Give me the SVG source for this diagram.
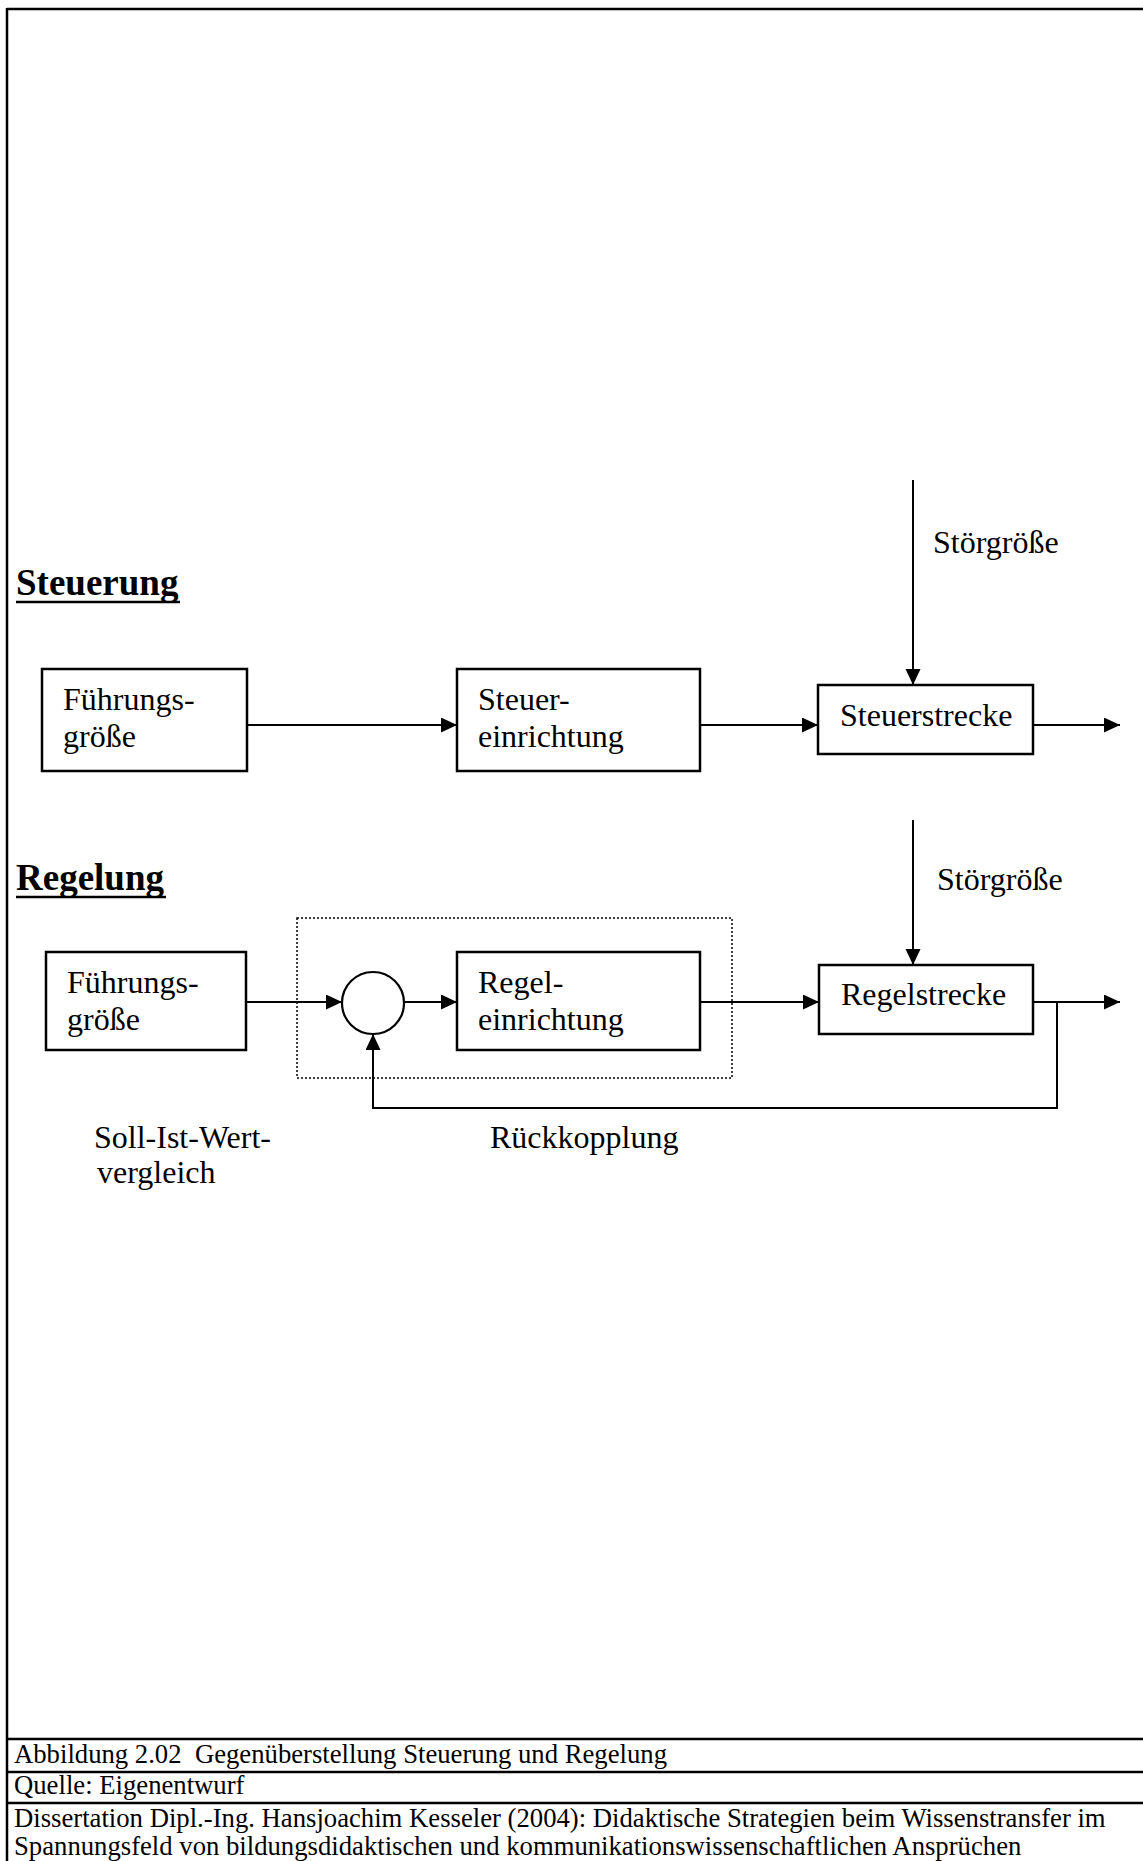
<svg xmlns="http://www.w3.org/2000/svg" width="1143" height="1861" viewBox="0 0 1143 1861">
<style>
.t{font-family:"Liberation Serif","Times New Roman",serif;font-size:32px;fill:#000}
.h{font-family:"Liberation Serif","Times New Roman",serif;font-size:37px;font-weight:bold;fill:#000}
.f{font-family:"Liberation Serif","Times New Roman",serif;font-size:26.7px;fill:#000}
.box{fill:#fff;stroke:#000;stroke-width:2.5}
.ln{fill:none;stroke:#000;stroke-width:2}
.arr{fill:none;stroke:#000;stroke-width:2;marker-end:url(#ah)}
.frame{fill:none;stroke:#000;stroke-width:2.5}
</style>
<defs>
<marker id="ah" markerUnits="userSpaceOnUse" markerWidth="18" markerHeight="16" refX="16" refY="7.5" orient="auto">
<path d="M0,0 L16,7.5 L0,15 Z" fill="#000"/>
</marker>
</defs>
<rect width="1143" height="1861" fill="#fff"/>
<g id="frame">
<line class="frame" x1="7" y1="9" x2="1143" y2="9"/>
<line class="frame" x1="7" y1="8" x2="7" y2="1861"/>
<line class="frame" x1="7" y1="1739" x2="1143" y2="1739"/>
<line class="frame" x1="7" y1="1772" x2="1143" y2="1772"/>
<line class="frame" x1="7" y1="1803" x2="1143" y2="1803"/>
</g>
<g id="titles">
<text class="h" x="16" y="595">Steuerung</text>
<line x1="16" y1="602" x2="180" y2="602" stroke="#000" stroke-width="2.5"/>
<text class="h" x="16" y="890">Regelung</text>
<line x1="16" y1="897" x2="166" y2="897" stroke="#000" stroke-width="2.5"/>
</g>
<g id="connectors">
<line class="arr" x1="247" y1="725" x2="457" y2="725"/>
<line class="arr" x1="700" y1="725" x2="818" y2="725"/>
<line class="arr" x1="1033" y1="725" x2="1120" y2="725"/>
<line class="arr" x1="913" y1="480" x2="913" y2="685"/>
<line class="arr" x1="246" y1="1002" x2="342" y2="1002"/>
<line class="arr" x1="404" y1="1002" x2="457" y2="1002"/>
<line class="arr" x1="700" y1="1002" x2="819" y2="1002"/>
<line class="arr" x1="1033" y1="1002" x2="1120" y2="1002"/>
<line class="arr" x1="913" y1="820" x2="913" y2="965"/>
<polyline class="arr" points="1057,1002 1057,1108 373,1108 373,1034"/>
</g>
<g id="dotted-box">
<rect x="297" y="918" width="435" height="160" fill="none" stroke="#000" stroke-width="1.5" stroke-dasharray="2,2"/>
</g>
<g id="s-fuehrung">
<rect class="box" x="42" y="669" width="205" height="102"/>
<text class="t" x="63" y="710">Führungs-</text>
<text class="t" x="63" y="747">größe</text>
</g>
<g id="s-einrichtung">
<rect class="box" x="457" y="669" width="243" height="102"/>
<text class="t" x="478" y="710">Steuer-</text>
<text class="t" x="478" y="747">einrichtung</text>
</g>
<g id="s-strecke">
<rect class="box" x="818" y="685" width="215" height="69"/>
<text class="t" x="840" y="726">Steuerstrecke</text>
</g>
<g id="s-stoer">
<text class="t" x="933" y="553">Störgröße</text>
</g>
<g id="r-fuehrung">
<rect class="box" x="46" y="952" width="200" height="98"/>
<text class="t" x="67" y="993">Führungs-</text>
<text class="t" x="67" y="1030">größe</text>
</g>
<g id="r-vergleich">
<circle cx="373" cy="1003" r="31" fill="#fff" stroke="#000" stroke-width="2.2"/>
</g>
<g id="r-einrichtung">
<rect class="box" x="457" y="952" width="243" height="98"/>
<text class="t" x="478" y="993">Regel-</text>
<text class="t" x="478" y="1030">einrichtung</text>
</g>
<g id="r-strecke">
<rect class="box" x="819" y="965" width="214" height="69"/>
<text class="t" x="841" y="1005">Regelstrecke</text>
</g>
<g id="r-stoer">
<text class="t" x="937" y="890">Störgröße</text>
</g>
<g id="labels">
<text class="t" x="94" y="1148">Soll-Ist-Wert-</text>
<text class="t" x="97" y="1183">vergleich</text>
<text class="t" x="490" y="1148">Rückkopplung</text>
</g>
<g id="footer">
<text class="f" x="14" y="1763" xml:space="preserve">Abbildung 2.02  Gegenüberstellung Steuerung und Regelung</text>
<text class="f" x="14" y="1794">Quelle: Eigenentwurf</text>
<text class="f" x="14" y="1827">Dissertation Dipl.-Ing. Hansjoachim Kesseler (2004): Didaktische Strategien beim Wissenstransfer im</text>
<text class="f" x="14" y="1855">Spannungsfeld von bildungsdidaktischen und kommunikationswissenschaftlichen Ansprüchen</text>
</g>
</svg>
